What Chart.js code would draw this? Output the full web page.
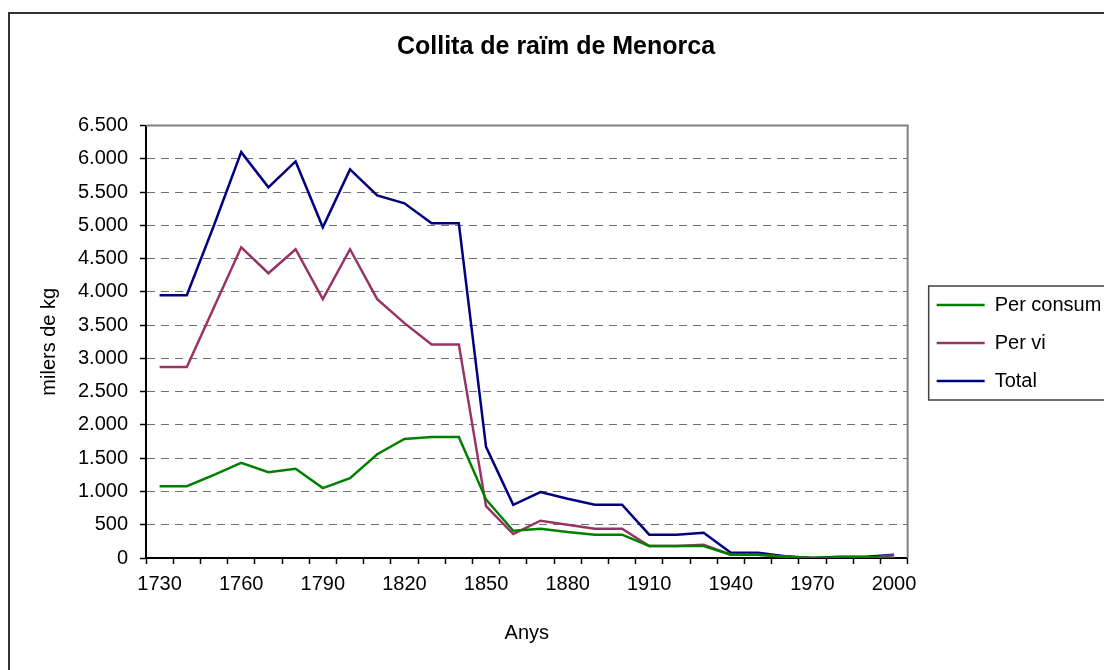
<!DOCTYPE html>
<html>
<head>
<meta charset="utf-8">
<script src="https://cdn.jsdelivr.net/npm/chart.js@4"></script>
<style>
  html, body { margin: 0; padding: 0; background: #fff; }
  #wrap { width: 1104px; height: 670px; position: relative; overflow: hidden; }
</style>
</head>
<body>
<div id="wrap"><canvas id="myChart" width="1104" height="670"></canvas></div>
<script>
'use strict';

//data

const years = ['1730', '1740', '1750', '1760', '1770', '1780', '1790', '1800', '1810', '1820',
  '1830', '1840', '1850', '1860', '1870', '1880', '1890', '1900', '1910', '1920',
  '1930', '1940', '1950', '1960', '1970', '1980', '1990', '2000'];
const perConsum = [1080, 1080, 1250, 1430, 1290, 1340, 1050, 1200, 1560, 1790,
  1820, 1820, 880, 410, 440, 390, 350, 350, 180, 180,
  180, 50, 50, 20, 0, 10, 10, 0];
const perVi = [2870, 2870, 3770, 4670, 4280, 4640, 3890, 4640, 3890, 3530,
  3210, 3210, 780, 360, 560, 500, 440, 440, 180, 180,
  200, 50, 50, 20, 0, 0, 0, 40];
const total = [3950, 3950, 5000, 6100, 5570, 5960, 4970, 5840, 5450, 5330,
  5030, 5030, 1670, 800, 990, 890, 800, 800, 350, 350,
  380, 80, 80, 25, 0, 20, 20, 50];
const seriesNames = ['Per consum', 'Per vi', 'Total'];

//helpers

const font = 'Liberation Sans, Arial, sans-serif';

function thousands(v) {
  return String(v).replace(/\B(?=(\d{3})+(?!\d))/g, '.');
}

function lineSet(label, data, color) {
  return {
    label: label,
    data: data,
    borderColor: color,
    backgroundColor: color,
    borderWidth: 2.5,
    pointRadius: 0,
    tension: 0,
    fill: false
  };
}

//frame, plot border and legend box
const framePlugin = {
  id: 'frame',
  afterDraw(chart) {
    const ctx = chart.ctx;
    const area = chart.chartArea;
    ctx.save();
    //plot area border (top and right)
    ctx.strokeStyle = '#808080';
    ctx.lineWidth = 2;
    ctx.beginPath();
    ctx.moveTo(area.left, area.top);
    ctx.lineTo(area.right, area.top);
    ctx.lineTo(area.right, area.bottom);
    ctx.stroke();
    //legend box
    const boxes = chart.legend.legendHitBoxes;
    if(boxes && boxes.length) {
      const first = boxes[0];
      const last = boxes[boxes.length - 1];
      const top = first.top - 9;
      const bottom = last.top + last.height + 9;
      ctx.strokeStyle = '#404040';
      ctx.lineWidth = 1.5;
      ctx.strokeRect(first.left - 8, top, chart.width, bottom - top);
    }
    //chart border
    ctx.strokeStyle = '#333';
    ctx.lineWidth = 2;
    ctx.strokeRect(9, 13, chart.width + 20, chart.height + 20);
    ctx.restore();
  }
};

//main

const config = {
  type: 'line',
  data: {
    labels: years,
    datasets: [
      lineSet(seriesNames[0], perConsum, '#008000'),
      lineSet(seriesNames[1], perVi, '#993366'),
      lineSet(seriesNames[2], total, '#000080')
    ]
  },
  options: {
    responsive: false,
    animation: false,
    events: [],
    layout: { padding: { left: 12, right: 4, top: 16, bottom: 0 } },
    plugins: {
      title: {
        display: true,
        text: 'Collita de raïm de Menorca',
        color: '#000',
        font: { family: font, size: 25, weight: 'bold' },
        padding: { top: 16, bottom: 63.5 }
      },
      legend: {
        position: 'right',
        labels: {
          color: '#000',
          font: { family: font, size: 20 },
          usePointStyle: true,
          pointStyle: 'line',
          pointStyleWidth: 48,
          padding: 18
        }
      },
      tooltip: { enabled: false }
    },
    scales: {
      x: {
        offset: true,
        grid: {
          display: true,
          offset: true,
          drawOnChartArea: false,
          drawTicks: true,
          tickLength: 6,
          tickColor: '#000',
          tickWidth: 1.5
        },
        border: { color: '#000', width: 2 },
        ticks: {
          autoSkip: false,
          maxRotation: 0,
          color: '#000',
          font: { family: font, size: 20 },
          padding: 8,
          callback: function(val, i) {
            return i % 3 === 0 ? years[i] : '';
          }
        },
        title: {
          display: true,
          text: 'Anys',
          color: '#000',
          font: { family: font, size: 20 },
          padding: { top: 0, bottom: 25 }
        },
        afterFit: function(scale) {
          scale.height = 112;
        }
      },
      y: {
        min: 0,
        max: 6500,
        grid: {
          color: '#707070',
          lineWidth: 1,
          drawTicks: true,
          tickLength: 6,
          tickColor: '#000',
          tickWidth: 1.5
        },
        border: { color: '#000', width: 2, dash: [8, 6] },
        ticks: {
          stepSize: 500,
          color: '#000',
          font: { family: font, size: 20 },
          padding: 12,
          callback: function(val) {
            return thousands(val);
          }
        },
        title: {
          display: true,
          text: 'milers de kg',
          color: '#000',
          font: { family: font, size: 20 },
          padding: { top: 25, bottom: 0 }
        },
        afterFit: function(scale) {
          scale.width = 134;
        }
      },
      gap: {
        type: 'linear',
        position: 'right',
        display: true,
        grid: { display: false },
        border: { display: false },
        ticks: { display: false },
        afterFit: function(scale) {
          scale.width = 11;
        }
      }
    }
  },
  plugins: [framePlugin]
};

const myChart = new Chart(document.getElementById('myChart'), config);
</script>
</body>
</html>
